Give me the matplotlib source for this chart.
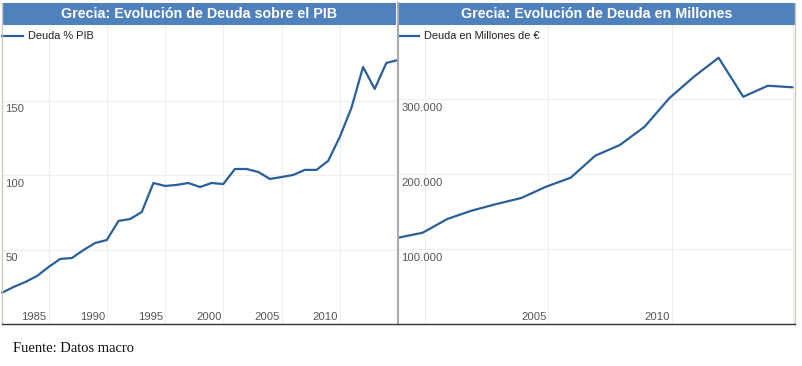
import matplotlib
matplotlib.use("Agg")
import matplotlib.pyplot as plt
from matplotlib.patches import Rectangle
from matplotlib.lines import Line2D
import matplotlib.transforms as mtransforms

# ---------------- data ----------------
years_pib = list(range(1980, 2015))
deuda_pib = [21.0, 24.9, 28.2, 32.2, 38.3, 43.7, 44.3, 49.7, 54.4, 56.4,
             69.2, 70.5, 75.2, 94.7, 92.7, 93.4, 94.7, 92.0, 94.7, 94.0,
             104.1, 104.1, 102.1, 97.4, 98.7, 100.1, 103.5, 103.5, 109.5, 125.6,
             145.1, 172.6, 157.9, 175.3, 177.3]

years_mill = list(range(1998, 2015))
deuda_mill = [115000, 121700, 140000, 151300, 160000, 168000, 183000, 195000,
              224400, 238700, 263000, 301000, 329700, 355000, 303000, 317700, 315600]

title_left = "Grecia: Evolución de Deuda sobre el PIB"
title_right = "Grecia: Evolución de Deuda en Millones"
legend_left = "Deuda % PIB"
legend_right = "Deuda en Millones de €"

yticks_left = [50, 100, 150]
yticklabels_left = ["50", "100", "150"]
yticks_right = [100000, 200000, 300000]
yticklabels_right = ["100.000", "200.000", "300.000"]

xlabels_left = [1985, 1990, 1995, 2000, 2005, 2010]
xlabels_right = [2005, 2010]
label_shift_left = 2.25    # the source chart draws its year labels offset from the points
label_shift_right = 1.5
vgrid_left = [1984, 1989, 1994, 1999, 2004, 2009]
vgrid_right = [1999.1, 2004.1, 2009.1, 2014.0]

source = "Fuente: Datos macro"

# ---------------- style ----------------
W, H = 803, 366
LINE = "#2b5f99"
BAND = "#4f81bd"
GRID = "#eeeeee"
TICK = "#555555"
SANS = ["Liberation Sans", "DejaVu Sans"]

fig = plt.figure(figsize=(W / 100, H / 100), dpi=100)
fig.patch.set_facecolor("white")


def rect(x0, y0, x1, y1):
    return [x0 / W, 1 - y1 / H, (x1 - x0) / W, (y1 - y0) / H]


def panel(box, band_x, years, values, xlim, ylim, yticks, ylabels, xlabels,
          shift, vgrid, title, legend):
    ax = fig.add_axes(rect(*box))
    ax.plot(years, values, color=LINE, lw=1.6, solid_joinstyle="round",
            solid_capstyle="round", zorder=3, clip_on=False)
    ax.set_xlim(*xlim)
    ax.set_ylim(*ylim)
    ax.set_xticks([])
    ax.set_yticks([])
    for s in ax.spines.values():
        s.set_visible(False)
    for g in vgrid:
        ax.axvline(g, color=GRID, lw=0.8, zorder=1)
    for v in yticks:
        ax.axhline(v, color=GRID, lw=0.8, zorder=1)
    # y labels inside, below gridline
    trans_y = mtransforms.blended_transform_factory(ax.transAxes, ax.transData)
    for v, lab in zip(yticks, ylabels):
        ax.text(3.5 / (box[2] - box[0]), v, lab, transform=trans_y
                + mtransforms.ScaledTranslation(0, -8.5 / 100, fig.dpi_scale_trans),
                ha="left", va="center", fontsize=8.1, color=TICK, family=SANS)
    # x labels inside near bottom
    trans_x = mtransforms.blended_transform_factory(ax.transData, ax.transAxes)
    for yr in xlabels:
        ax.text(yr - shift, 6.5 / (box[3] - box[1]), str(yr), transform=trans_x,
                ha="center", va="center", fontsize=8.1, color=TICK, family=SANS)
    # legend
    fig.add_artist(Line2D([(box[0]) / W, (box[0] + 21) / W], [1 - 36 / H, 1 - 36 / H],
                          color=LINE, lw=1.6, transform=fig.transFigure))
    fig.text((box[0] + 26) / W, 1 - 36 / H, legend, ha="left", va="center",
             fontsize=7.9, color="#222222", family=SANS)
    # title band
    fig.add_artist(Rectangle((band_x[0] / W, 1 - 25 / H), (band_x[1] - band_x[0]) / W,
                             22 / H, transform=fig.transFigure, facecolor=BAND,
                             edgecolor="none"))
    fig.text((band_x[0] + band_x[1]) / 2 / W, 1 - 14 / H, title, ha="center",
             va="center", fontsize=10.3, fontweight="bold", color="white", family=SANS)
    return ax


axl = panel((2, 25, 398, 324), (2, 396), years_pib, deuda_pib, (1980.0, 2014.0),
            (0, 200.8), yticks_left, yticklabels_left, xlabels_left, label_shift_left,
            vgrid_left, title_left, legend_left)
axr = panel((398, 25, 795, 324), (399, 795), years_mill, deuda_mill, (1998.0, 2014.1),
            (0, 398667), yticks_right, yticklabels_right, xlabels_right, label_shift_right,
            vgrid_right, title_right, legend_right)

# borders
fig.add_artist(Line2D([2 / W, 2 / W], [1 - 3 / H, 1 - 324 / H], color="#cfc8bb", lw=1,
                      transform=fig.transFigure))
fig.add_artist(Line2D([397.7 / W, 397.7 / W], [1 - 3 / H, 1 - 324 / H], color="#aaaaaa",
                      lw=1.5, transform=fig.transFigure))
fig.add_artist(Line2D([795 / W, 795 / W], [1 - 3 / H, 1 - 324 / H], color="#cfc8bb", lw=1,
                      transform=fig.transFigure))
fig.add_artist(Line2D([2 / W, 795 / W], [1 - 324 / H, 1 - 324 / H], color="#333333", lw=1,
                      transform=fig.transFigure))

fig.text(13 / W, 1 - 348 / H, source, ha="left", va="center", fontsize=10.5,
         color="#111111", family=["Liberation Serif", "DejaVu Serif"])

fig.savefig("out.png", dpi=100)
